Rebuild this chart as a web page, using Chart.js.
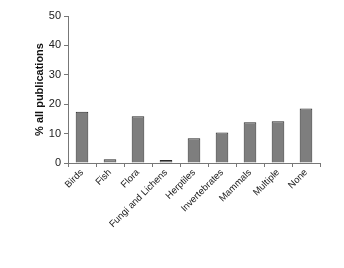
<!DOCTYPE html>
<html>
<head>
<meta charset="utf-8">
<script src="https://cdn.jsdelivr.net/npm/chart.js@4"></script>
<style>
  html, body { margin: 0; padding: 0; background: #fff; }
  #wrap { width: 344px; height: 268px; }
</style>
</head>
<body>
<div id="wrap"><canvas id="chart" width="344" height="268"></canvas></div>
<script>
// 분류 및 값
const categories = ["Birds", "Fish", "Flora", "Fungi and Lichens", "Herptiles", "Invertebrates", "Mammals", "Multiple", "None"];
const percentValues = [17.4, 1.3, 15.9, 1.0, 8.4, 10.4, 13.9, 14.2, 18.5];
const yTicks = [0, 10, 20, 30, 40, 50];

const ctx = document.getElementById("chart").getContext("2d");
new Chart(ctx, {
  type: "bar",
  data: {
    labels: categories,
    datasets: [
      {
        data: percentValues,
        backgroundColor: "#7e7e7e",
        borderColor: "#2a2a2a",
        borderWidth: 1,
        barPercentage: 0.45,
        categoryPercentage: 1,
      },
    ],
  },
  options: {
    responsive: false,
    animation: false,
    layout: { padding: { top: 16, right: 24, left: 33, bottom: 0 } },
    plugins: { legend: { display: false }, tooltip: { enabled: false } },
    scales: {
      x: {
        grid: { drawOnChartArea: false, tickLength: 4, color: "#777" },
        border: { color: "#777" },
        ticks: {
          color: "#222",
          font: { family: "Liberation Sans", size: 9.5 },
          minRotation: 45,
          maxRotation: 45,
          padding: 0,
        },
        afterFit: (scale) => { scale.height = 105; },
      },
      y: {
        min: 0,
        max: 50,
        afterBuildTicks: (scale) => { scale.ticks = yTicks.map((v) => ({ value: v })); },
        grid: { drawOnChartArea: false, tickLength: 4, color: "#777" },
        border: { color: "#777" },
        ticks: {
          color: "#222",
          font: { family: "Liberation Sans", size: 11 },
          padding: 3,
        },
        title: {
          display: true,
          text: "% all publications",
          color: "#111",
          font: { family: "Liberation Sans", size: 11, weight: "bold" },
          padding: 0,
        },
        afterFit: (scale) => { scale.width = 35; },
      },
    },
  },
});
</script>
</body>
</html>
